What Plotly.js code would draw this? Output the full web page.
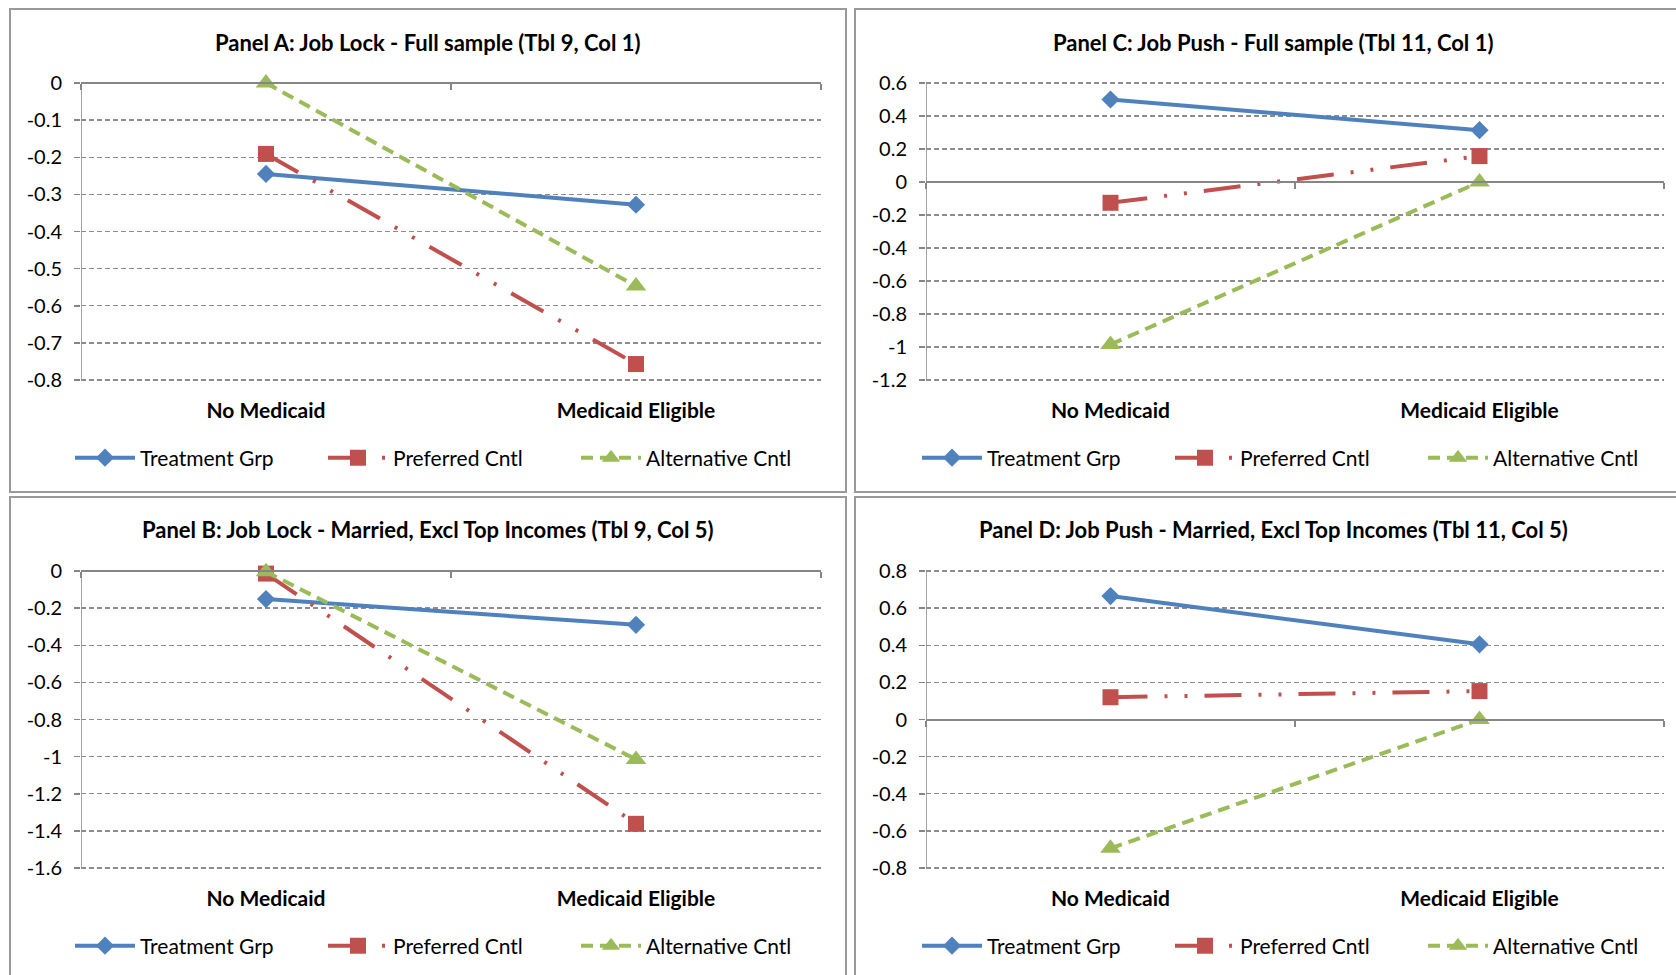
<!DOCTYPE html>
<html>
<head>
<meta charset="utf-8">
<script src="https://cdn.plot.ly/plotly-3.0.1.min.js"></script>
<style>
  html, body { margin: 0; padding: 0; background: #ffffff; }
  #chart { width: 1676px; height: 975px; }
</style>
</head>
<body>
<div id="chart"></div>
<script>
// ---------------- DATA ----------------
const categories = ['No Medicaid', 'Medicaid Eligible'];
const seriesNames = ['Treatment Grp', 'Preferred Cntl', 'Alternative Cntl'];

const panelTitles = [
  'Panel A: Job Lock - Full sample (Tbl 9, Col 1)',
  'Panel B: Job Lock - Married, Excl Top Incomes (Tbl 9, Col 5)',
  'Panel C: Job Push - Full sample (Tbl 11, Col 1)',
  'Panel D: Job Push - Married, Excl Top Incomes (Tbl 11, Col 5)'
];

// Panel A
const treatA = [-0.245, -0.328];
const prefA  = [-0.191, -0.757];
const altA   = [0.0, -0.547];
// Panel B
const treatB = [-0.151, -0.290];
const prefB  = [-0.014, -1.362];
const altB   = [-0.004, -1.015];
// Panel C
const treatC = [0.500, 0.314];
const prefC  = [-0.126, 0.157];
const altC   = [-0.985, 0.000];
// Panel D
const treatD = [0.665, 0.405];
const prefD  = [0.120, 0.153];
const altD   = [-0.694, 0.000];

// Tick values / labels
const tickValsA = [0, -0.1, -0.2, -0.3, -0.4, -0.5, -0.6, -0.7, -0.8];
const tickTextA = ['0', '-0.1', '-0.2', '-0.3', '-0.4', '-0.5', '-0.6', '-0.7', '-0.8'];
const tickValsB = [0, -0.2, -0.4, -0.6, -0.8, -1.0, -1.2, -1.4, -1.6];
const tickTextB = ['0', '-0.2', '-0.4', '-0.6', '-0.8', '-1', '-1.2', '-1.4', '-1.6'];
const tickValsC = [0.6, 0.4, 0.2, 0, -0.2, -0.4, -0.6, -0.8, -1.0, -1.2];
const tickTextC = ['0.6', '0.4', '0.2', '0', '-0.2', '-0.4', '-0.6', '-0.8', '-1', '-1.2'];
const tickValsD = [0.8, 0.6, 0.4, 0.2, 0, -0.2, -0.4, -0.6, -0.8];
const tickTextD = ['0.8', '0.6', '0.4', '0.2', '0', '-0.2', '-0.4', '-0.6', '-0.8'];

const rangeA = [-0.8, 0];
const rangeB = [-1.6, 0];
const rangeC = [-1.2, 0.6];
const rangeD = [-0.8, 0.8];

// ---------------- STYLE / LAYOUT ----------------
const W = 1676, H = 975;
const FONT = 'Lato, "Open Sans", sans-serif';
const colors = ['#4F81BD', '#C0504D', '#9BBB59'];
const dashes = ['solid', '37px,17px,3px,17px,3px,17px', '12px,7px'];
const symbols = ['diamond', 'square', 'triangle-up'];
const msizes = [14, 16, 18];
const GRID = '#8c8c8c';

const px = v => v / W;
const py = v => 1 - v / H;
// padding of ~2px so that the gridlines at both range ends are still drawn
const PADPX = 2;

const panels = [
  { key: 'A', data: [treatA, prefA, altA], range: rangeA, tv: tickValsA, tt: tickTextA,
    x0: 81, x1: 821, y0: 83, y1: 380, title: panelTitles[0], tx: 428, ty: 42, lx: 70, ly: 458,
    box: [10, 9, 846, 492] },
  { key: 'B', data: [treatB, prefB, altB], range: rangeB, tv: tickValsB, tt: tickTextB,
    x0: 81, x1: 821, y0: 571, y1: 868, title: panelTitles[1], tx: 428, ty: 529, lx: 70, ly: 946,
    box: [10, 497, 846, 1000] },
  { key: 'C', data: [treatC, prefC, altC], range: rangeC, tv: tickValsC, tt: tickTextC,
    x0: 926, x1: 1664, y0: 83, y1: 380, title: panelTitles[2], tx: 1273, ty: 42, lx: 917, ly: 458,
    box: [855, 9, 1700, 492] },
  { key: 'D', data: [treatD, prefD, altD], range: rangeD, tv: tickValsD, tt: tickTextD,
    x0: 926, x1: 1664, y0: 571, y1: 868, title: panelTitles[3], tx: 1273, ty: 529, lx: 917, ly: 946,
    box: [855, 497, 1700, 1000] }
];

const traces = [];
const layout = {
  width: W, height: H, autosize: false,
  margin: { l: 0, r: 0, t: 0, b: 0, pad: 0, autoexpand: false },
  paper_bgcolor: '#ffffff',
  plot_bgcolor: 'rgba(0,0,0,0)',
  font: { family: FONT, size: 20, color: '#000000' },
  showlegend: true,
  annotations: [],
  shapes: []
};

panels.forEach((p, i) => {
  const n = i + 1;
  const xa = 'x' + (2 * i + 1), xz = 'x' + (2 * i + 2), ya = 'y' + n;
  const xaKey = 'xaxis' + (2 * i + 1), xzKey = 'xaxis' + (2 * i + 2), yaKey = 'yaxis' + n;
  const legKey = n === 1 ? 'legend' : 'legend' + n;
  const span = p.range[1] - p.range[0];
  const e = span * PADPX / (p.y1 - p.y0);
  const rng = [p.range[0] - e, p.range[1] + e];
  const dom = [py(p.y1 + PADPX), py(p.y0 - PADPX)];

  layout[xaKey] = {
    domain: [px(p.x0), px(p.x1)], anchor: ya, type: 'category',
    categoryorder: 'array', categoryarray: categories, range: [-0.5, 1.5],
    showline: false, showgrid: false, zeroline: false, ticks: '', automargin: false,
    tickfont: { family: FONT, size: 21, weight: 'bold', color: '#000' },
    ticklabelstandoff: 14, fixedrange: true
  };
  // zero-line axis with boundary ticks
  const zeroFrac = dom[0] + (0 - rng[0]) / (rng[1] - rng[0]) * (dom[1] - dom[0]);
  layout[xzKey] = {
    domain: [px(p.x0), px(p.x1)], overlaying: xa, anchor: 'free', position: zeroFrac,
    side: 'bottom', type: 'category', categoryorder: 'array', categoryarray: categories,
    range: [-0.5, 1.5], tickson: 'boundaries', ticks: 'outside', ticklen: 6, tickwidth: 1.5,
    tickcolor: '#868686', showline: true, linecolor: '#868686', linewidth: 2, automargin: false,
    showticklabels: false, showgrid: false, zeroline: false, fixedrange: true
  };
  layout[yaKey] = {
    domain: dom, anchor: xa, range: rng, tickmode: 'array', tickvals: p.tv, ticktext: p.tt,
    showline: false, ticks: 'outside', ticklen: 6,
    tickwidth: 1.5, tickcolor: '#868686', showgrid: true, gridcolor: GRID, gridwidth: 1.3,
    griddash: '5px,3px', zeroline: false, tickfont: { family: FONT, size: 20, color: '#000' },
    ticklabelstandoff: 8, fixedrange: true, automargin: false
  };
  // y-axis line spanning exactly the value range
  layout.shapes.push({
    type: 'line', xref: xa, yref: ya, x0: -0.5, x1: -0.5, y0: p.range[0], y1: p.range[1],
    line: { color: '#868686', width: 1.5 }, layer: 'below'
  });
  layout[legKey] = {
    orientation: 'h', x: px(p.lx), xanchor: 'left', y: py(p.ly), yanchor: 'middle',
    font: { family: FONT, size: 21, color: '#000' }, itemwidth: 60, entrywidth: 178,
    bgcolor: 'rgba(0,0,0,0)', borderwidth: 0, traceorder: 'normal', itemclick: false
  };

  // invisible trace to carry the zero-line axis
  traces.push({
    type: 'scatter', mode: 'markers', x: categories, y: p.data[0], xaxis: xz, yaxis: ya,
    marker: { opacity: 0 }, showlegend: false, hoverinfo: 'skip'
  });

  p.data.forEach((vals, s) => {
    traces.push({
      type: 'scatter', mode: 'lines+markers', name: seriesNames[s],
      x: categories, y: vals, xaxis: xa, yaxis: ya, legend: legKey,
      line: { color: colors[s], width: 4, dash: dashes[s] },
      marker: { symbol: symbols[s], size: msizes[s], color: colors[s], line: { width: 0 } },
      cliponaxis: false
    });
  });

  layout.annotations.push({
    xref: 'paper', yref: 'paper', x: px(p.tx), y: py(p.ty), xanchor: 'center', yanchor: 'middle',
    text: '<b>' + p.title + '</b>', showarrow: false,
    font: { family: FONT, size: 22, color: '#000' }
  });
  layout.shapes.push({
    type: 'rect', xref: 'paper', yref: 'paper', layer: 'below',
    x0: px(p.box[0]), x1: px(p.box[2]), y0: py(p.box[3]), y1: py(p.box[1]),
    line: { color: '#9a9a9a', width: 2 }, fillcolor: 'rgba(0,0,0,0)'
  });
});

Plotly.newPlot('chart', traces, layout, { displayModeBar: false, staticPlot: true });
</script>
</body>
</html>
